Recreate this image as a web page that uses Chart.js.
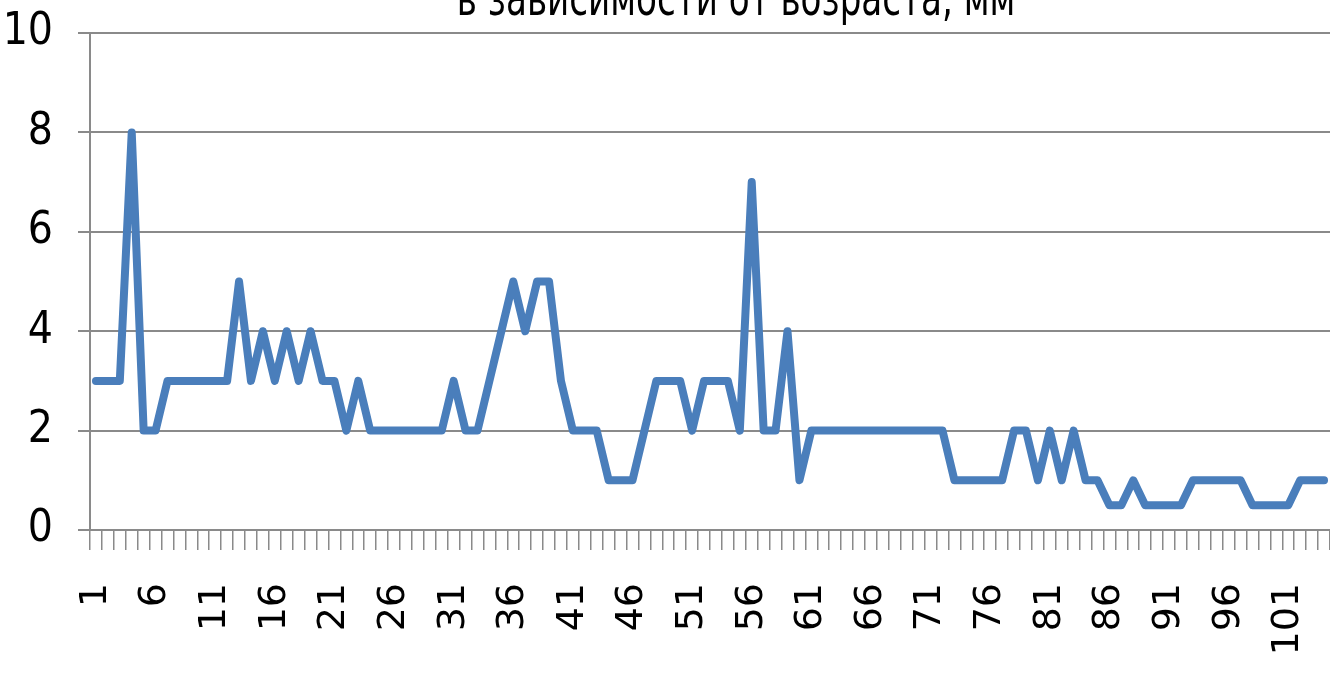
<!DOCTYPE html>
<html>
<head>
<meta charset="utf-8">
<script src="https://cdn.jsdelivr.net/npm/chart.js@4"></script>
<style>
  html, body { margin: 0; padding: 0; background: #fff; overflow: hidden; }
  #wrap { position: relative; width: 1330px; height: 674px; }
</style>
</head>
<body>
<div id="wrap"><canvas id="lineChart"></canvas></div>
<script>
const titleText = 'в зависимости от возраста, мм'

const ages = [
  1, 2, 3, 4, 5, 6, 7, 8, 9, 10, 11, 12, 13, 14, 15, 16, 17, 18, 19, 20,
  21, 22, 23, 24, 25, 26, 27, 28, 29, 30, 31, 32, 33, 34, 35, 36, 37, 38, 39, 40,
  41, 42, 43, 44, 45, 46, 47, 48, 49, 50, 51, 52, 53, 54, 55, 56, 57, 58, 59, 60,
  61, 62, 63, 64, 65, 66, 67, 68, 69, 70, 71, 72, 73, 74, 75, 76, 77, 78, 79, 80,
  81, 82, 83, 84, 85, 86, 87, 88, 89, 90, 91, 92, 93, 94, 95, 96, 97, 98, 99, 100,
  101, 102, 103, 104,
]

const sizes = [
  3, 3, 3, 8, 2, 2, 3, 3, 3, 3, 3, 3, 5, 3, 4, 3, 4, 3, 4, 3,
  3, 2, 3, 2, 2, 2, 2, 2, 2, 2, 3, 2, 2, 3, 4, 5, 4, 5, 5, 3,
  2, 2, 2, 1, 1, 1, 2, 3, 3, 3, 2, 3, 3, 3, 2, 7, 2, 2, 4, 1,
  2, 2, 2, 2, 2, 2, 2, 2, 2, 2, 2, 2, 1, 1, 1, 1, 1, 2, 2, 1,
  2, 1, 2, 1, 1, 0.5, 0.5, 1, 0.5, 0.5, 0.5, 0.5, 1, 1, 1, 1, 1, 0.5, 0.5, 0.5,
  0.5, 1, 1, 1,
]

const shownLabels = ['1', '6', '11', '16', '21', '26', '31', '36', '41', '46', '51',
  '56', '61', '66', '71', '76', '81', '86', '91', '96', '101']

const yTicks = [0, 2, 4, 6, 8, 10]

// title sits above the plot and is cut by the top edge, like in the picture
const cutTitle = {
  id: 'cutTitle',
  afterDraw(chart) {
    const ctx = chart.ctx
    ctx.save()
    ctx.font = '38px "Liberation Sans Narrow", "DejaVu Sans Condensed", sans-serif'
    ctx.fillStyle = '#000'
    ctx.textAlign = 'center'
    ctx.textBaseline = 'alphabetic'
    ctx.translate(736, 15)
    ctx.scale(1, 1.3)
    ctx.fillText(titleText, 0, 0)
    ctx.restore()
  },
}

const gridColor = '#8a8a8a'

document.addEventListener('DOMContentLoaded', () => {
  const ctx = document.getElementById('lineChart').getContext('2d')

  new Chart(ctx, {
    type: 'line',
    data: {
      labels: ages.map(String),
      datasets: [
        {
          label: titleText,
          data: sizes,
          borderColor: '#4a7ebb',
          borderWidth: 8,
          borderJoinStyle: 'round',
          borderCapStyle: 'round',
          pointRadius: 0,
          tension: 0,
          fill: false,
        },
      ],
    },
    options: {
      responsive: true,
      maintainAspectRatio: false,
      animation: false,
      layout: { padding: { top: 33, right: 0, bottom: 0, left: 0 } },
      plugins: {
        legend: { display: false },
        tooltip: { enabled: false },
        title: { display: false },
      },
      scales: {
        x: {
          type: 'category',
          offset: true,
          grid: {
            offset: true,
            drawOnChartArea: false,
            drawTicks: true,
            tickLength: 20,
            color: gridColor,
            lineWidth: 1.5,
          },
          border: { color: gridColor, width: 2 },
          ticks: {
            autoSkip: false,
            maxRotation: 90,
            minRotation: 90,
            padding: 33,
            color: '#000',
            font: { family: '"DejaVu Sans", sans-serif', size: 38 },
            callback(value, index) {
              const lbl = this.getLabelForValue(value)
              return shownLabels.includes(lbl) ? lbl : ''
            },
          },
          afterFit(scale) {
            scale.height = 144
            scale.paddingLeft = 0
            scale.paddingRight = 0
          },
        },
        y: {
          min: 0,
          max: 10,
          afterBuildTicks(scale) {
            scale.ticks = yTicks.map(v => ({ value: v }))
          },
          grid: {
            color: gridColor,
            lineWidth: 2,
            drawTicks: true,
            tickLength: 12,
          },
          border: { color: gridColor, width: 2 },
          ticks: {
            padding: 25,
            color: '#000',
            font: { family: '"Liberation Sans Narrow", "DejaVu Sans Condensed", sans-serif', size: 44 },
          },
          afterFit(scale) {
            scale.width = 90
            scale.paddingTop = 0
            scale.paddingBottom = 0
          },
        },
      },
    },
    plugins: [cutTitle],
  })
})
</script>
</body>
</html>
